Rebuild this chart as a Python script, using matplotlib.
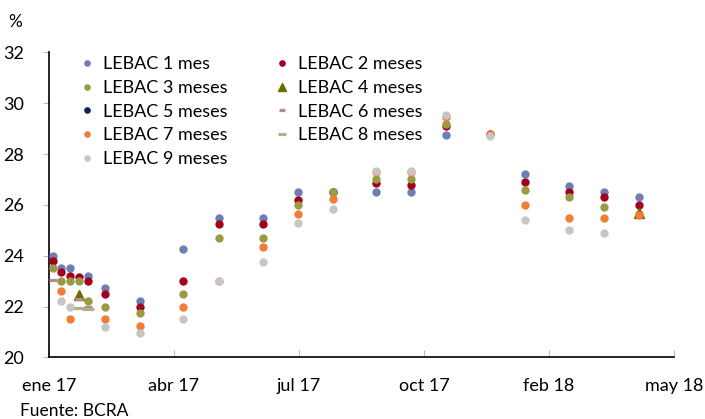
import numpy as np
import datetime as dt
import matplotlib
matplotlib.use("Agg")
import matplotlib.pyplot as plt
import matplotlib.dates as mdates
from matplotlib.ticker import FuncFormatter, FixedLocator, MultipleLocator

plt.rcParams['font.family'] = ['Lato', 'DejaVu Sans']

# fechas de licitacion
fechas = ['2017-01-04', '2017-01-11', '2017-01-18', '2017-01-25', '2017-02-01',
          '2017-02-15', '2017-03-15', '2017-04-18', '2017-05-17', '2017-06-21',
          '2017-07-19', '2017-08-16', '2017-09-20', '2017-10-18', '2017-11-15',
          '2017-12-20', '2018-01-17', '2018-02-21', '2018-03-21', '2018-04-18']

nan = np.nan
lebac_1 = [24.0, 23.5, 23.5, nan, 23.2, 22.75, 22.2, 24.25, 25.5, 25.5,
           26.5, 26.5, 26.5, 26.5, 28.75, nan, 27.2, 26.75, 26.5, 26.3]
lebac_2 = [23.8, 23.35, 23.22, 23.17, 23.0, 22.5, 22.0, 23.0, 25.25, 25.25,
           26.2, 26.5, 26.85, 26.8, 29.1, 28.8, 26.9, 26.5, 26.3, 26.0]
lebac_3 = [23.5, 23.0, 23.0, 23.0, 22.2, 22.0, 21.75, 22.5, 24.7, 24.7,
           26.0, 26.5, 27.0, 27.0, 29.2, nan, 26.6, 26.3, 25.9, 25.65]
lebac_4 = [nan, nan, nan, 22.45, nan, nan, nan, nan, nan, nan,
           nan, nan, nan, nan, nan, nan, nan, nan, nan, 25.7]
lebac_5 = [nan] * 20
lebac_6 = [23.05, nan, nan, 22.3, 22.0, nan, nan, nan, nan, nan,
           nan, nan, nan, nan, nan, nan, nan, nan, nan, nan]
lebac_7 = [nan, 22.6, 21.5, nan, nan, 21.5, 21.25, 22.0, 23.0, 24.35,
           25.65, 26.25, 27.3, 27.3, 29.45, 28.8, 26.0, 25.5, 25.5, 25.6]
lebac_8 = [nan, nan, nan, 21.95, 21.9, nan, nan, nan, nan, nan,
           nan, nan, nan, nan, nan, nan, nan, nan, nan, nan]
lebac_9 = [nan, 22.2, 22.0, nan, nan, 21.2, 20.95, 21.5, 23.0, 23.75,
           25.3, 25.85, 27.35, 27.35, 29.55, 28.72, 25.4, 25.0, 24.9, nan]

series = [
    ('LEBAC 1 mes', lebac_1, '#6F7EB2', 'o', 5.0, 1.0),
    ('LEBAC 2 meses', lebac_2, '#A3001E', 'o', 5.0, 1.0),
    ('LEBAC 3 meses', lebac_3, '#9A9A45', 'o', 5.0, 1.0),
    ('LEBAC 4 meses', lebac_4, '#6B6B00', '^', 7.0, 1.0),
    ('LEBAC 5 meses', lebac_5, '#0D1F5C', 'o', 5.0, 1.0),
    ('LEBAC 6 meses', lebac_6, '#B58A92', '_', 5.5, 2.3),
    ('LEBAC 7 meses', lebac_7, '#F07D38', 'o', 5.0, 1.0),
    ('LEBAC 8 meses', lebac_8, '#B0B08A', '_', 8.0, 2.3),
    ('LEBAC 9 meses', lebac_9, '#C6C6C6', 'o', 5.0, 1.0),
]

meses = ['ene', 'feb', 'mar', 'abr', 'may', 'jun',
         'jul', 'ago', 'sep', 'oct', 'nov', 'dic']

x = mdates.date2num([dt.datetime.strptime(f, '%Y-%m-%d') for f in fechas])
x0 = mdates.date2num(dt.datetime(2017, 1, 1))

fig = plt.figure(figsize=(7.05, 4.19), dpi=100)
ax = fig.add_axes([0.0695, 0.147, 0.8865, 0.728])

handles = []
for i, (nombre, vals, col, mk, ms, mew) in enumerate(series):
    h, = ax.plot(x, vals, linestyle='none', marker=mk, markersize=ms,
                 color=col, markeredgecolor=col, markeredgewidth=mew,
                 label=nombre, zorder=3 + i)
    handles.append(h)

# eje de fechas cada 100 dias, como en el grafico original
ax.set_xlim(x0, x0 + 500)
ax.set_ylim(20, 32)
ax.xaxis.set_major_locator(FixedLocator(x0 + np.arange(0, 501, 100)))
ax.xaxis.set_major_formatter(FuncFormatter(
    lambda v, p: '%s %s' % (meses[mdates.num2date(v).month - 1],
                            mdates.num2date(v).strftime('%y'))))
ax.yaxis.set_major_locator(MultipleLocator(2))

for s in ['top', 'right']:
    ax.spines[s].set_visible(False)
for s in ['left', 'bottom']:
    ax.spines[s].set_color('black')
    ax.spines[s].set_linewidth(1.2)

ax.tick_params(axis='y', direction='out', length=4, color='#BBBBBB',
               labelsize=13, pad=14)
ax.tick_params(axis='x', direction='in', length=5, color='#BBBBBB',
               labelsize=13, pad=15)

fig.text(0.012, 0.935, '%', fontsize=12.5)
fig.text(0.028, 0.008, 'Fuente: BCRA', fontsize=12.5)

orden = [0, 2, 4, 6, 8, 1, 3, 5, 7]
leg = ax.legend([handles[k] for k in orden], [series[k][0] for k in orden],
                ncol=2, frameon=False, loc='upper left',
                bbox_to_anchor=(0.1135, 0.866), bbox_transform=fig.transFigure,
                fontsize=13, markerscale=0.75, handlelength=0.8,
                handletextpad=0.5, columnspacing=2.6, labelspacing=0.43,
                borderaxespad=0, borderpad=0)

fig.savefig('out.png', dpi=100)
